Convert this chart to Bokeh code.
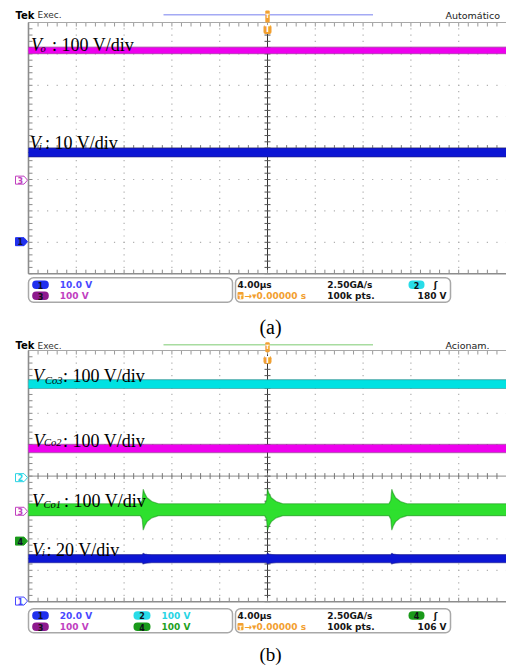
import numpy as np
from bokeh.plotting import figure
from bokeh.layouts import column
from bokeh.models import Range1d
from bokeh.core.properties import value
from bokeh.embed import file_html
from bokeh.resources import INLINE

# ---------------- values (units: divisions) ----------------
# panel (a)
a_trace_ch = ["3", "1"]
a_trace_sub = ["o", "i"]
a_trace_scale = [": 100 V/div", ": 10 V/div"]
a_trace_level = [3.11, -0.14]
a_trace_half = [0.105, 0.14]
a_marker_ch = ["3", "1"]
a_marker_level = [-1.02, -2.98]
a_selected = "1"
a_readout_ch = ["1", "3"]
a_readout_val = ["10.0 V", "100 V"]
a_mode = "Automático"
a_trig_ch = "2"
a_trig_level = "180 V"

# panel (b)
b_trace_ch = ["2", "3", "4", "1"]
b_trace_sub = ["Co3", "Co2", "Co1", "i"]
b_trace_scale = [": 100 V/div", ": 100 V/div", ": 100 V/div", ": 20 V/div"]
b_trace_level = [2.93, 0.88, -1.07, -2.63]
b_trace_half = [0.14, 0.13, 0.19, 0.13]
b_marker_ch = ["2", "3", "4", "1"]
b_marker_level = [-0.05, -1.12, -2.07, -3.98]
b_selected = "4"
b_readout_ch = ["1", "3", "2", "4"]
b_readout_val = ["20.0 V", "100 V", "100 V", "100 V"]
b_mode = "Acionam."
b_trig_ch = "4"
b_trig_level = "106 V"

# common acquisition readout
timebase = "4.00µs"
sample_rate = "2.50GA/s"
trig_pos = "→▾0.00000 s"
record = "100k pts."

# switching transients (time in divisions) and their envelope half-heights
spike_times = [-2.6, 0.0, 2.6]
spike_offsets = [-0.06, -0.02, 0.0, 0.03, 0.08, 0.18, 0.32]
co1_spike_amp = [0.19, 0.30, 0.65, 0.52, 0.38, 0.26, 0.19]
vi_spike_amp = [0.13, 0.13, 0.17, 0.15, 0.14, 0.13, 0.13]

# ---------------- styling ----------------
TRACE_FILL = {"1": "#0c16d4", "2": "#00e2e2", "3": "#ee00ee", "4": "#2ee02e"}
TRACE_EDGE = {"1": "#1c1c86", "2": "#2a8c8c", "3": "#8e2a8e", "4": "#1a901a"}
BADGE_FILL = {"1": "#2030ee", "2": "#28dce8", "3": "#8e1a8e", "4": "#1a9a1a"}
READ_COL = {"1": "#4848ff", "2": "#28d4e4", "3": "#c040c0", "4": "#229f22"}
ORANGE = "#f2a030"
SANS = "DejaVu Sans"
SERIF = "Liberation Serif"

W = 506
GX0 = 28.0
DX = 47.8
DY = 31.4


class Panel:
    def __init__(self, H, gy0):
        self.H = H
        self.gy0 = gy0
        self.p = figure(width=W, height=H,
                        x_range=Range1d(self.X(0), self.X(W)),
                        y_range=Range1d(self.Y(H), self.Y(0)),
                        x_axis_type=None, y_axis_type=None, toolbar_location=None,
                        output_backend="svg", min_border=0)
        self.p.outline_line_color = None
        self.p.background_fill_color = "white"
        self.p.border_fill_color = "white"

    def X(self, fx):
        return -5 + (fx - GX0) / DX

    def Y(self, fy):
        return 4 - (fy - self.gy0) / DY

    def txt(self, fx, fy, s, size, color="black", font=SANS, style="normal",
            align="left", baseline="middle"):
        self.p.text(x=[self.X(fx)], y=[self.Y(fy)], text=[s], text_font=value(font),
                    text_font_size=size, text_font_style=style, text_color=color,
                    text_align=align, text_baseline=baseline)

    def graticule(self):
        p = self.p
        minor_x = np.round(np.arange(-5, 5.001, 0.2), 3)
        minor_y = np.round(np.arange(-4, 4.001, 0.2), 3)
        dx, dy = [], []
        for gx in range(-4, 5):
            if gx == 0:
                continue
            dx += [gx] * len(minor_y)
            dy += list(minor_y)
        for gy in range(-3, 4):
            if gy == 0:
                continue
            dx += list(minor_x)
            dy += [gy] * len(minor_x)
        p.rect(dx, dy, width=1.2, height=1.2, width_units="screen",
               height_units="screen", fill_color="#b0b0b0", line_color=None)
        p.segment(x0=[-5], y0=[0], x1=[5], y1=[0], line_color="#8a8a8a", line_width=1)
        p.segment(x0=[0], y0=[-4], x1=[0], y1=[4], line_color="#333333", line_width=1)
        tx, ty = 3 / DX, 3 / DY
        p.segment(x0=[-tx] * len(minor_y), y0=list(minor_y), x1=[tx] * len(minor_y),
                  y1=list(minor_y), line_color="#555555", line_width=1)
        p.segment(x0=list(minor_x), y0=[-ty] * len(minor_x), x1=list(minor_x),
                  y1=[ty] * len(minor_x), line_color="#777777", line_width=1)
        ex, ey = 4 / DX, 4 / DY
        p.segment(x0=list(minor_x), y0=[4] * len(minor_x), x1=list(minor_x),
                  y1=[4 - ey] * len(minor_x), line_color="#9a9a9a", line_width=1)
        p.segment(x0=list(minor_x), y0=[-4] * len(minor_x), x1=list(minor_x),
                  y1=[-4 + ey] * len(minor_x), line_color="#8a8a8a", line_width=1)
        p.segment(x0=[-5] * len(minor_y), y0=list(minor_y), x1=[-5 + ex] * len(minor_y),
                  y1=list(minor_y), line_color="#8a8a8a", line_width=1)
        p.segment(x0=[-5], y0=[4], x1=[5], y1=[4], line_color="#a8a8a8", line_width=1)
        p.segment(x0=[-5, -5], y0=[-4, -4], x1=[-5, 5], y1=[4, -4],
                  line_color="#8c8c8c", line_width=1.6)

    def band(self, t, lvl, half, ch):
        p = self.p
        t = np.asarray(t, dtype=float)
        half = np.asarray(half, dtype=float)
        up = lvl + half
        dn = lvl - half
        p.varea(x=t, y1=dn, y2=up, fill_color=TRACE_FILL[ch])
        p.line(t, up, line_color=TRACE_EDGE[ch], line_alpha=0.55, line_width=1.2)
        p.line(t, dn, line_color=TRACE_EDGE[ch], line_alpha=0.55, line_width=1.2)
        p.line(t, np.full(len(t), lvl), line_color=TRACE_FILL[ch], line_width=1)

    def pointer(self, lvl, ch, selected):
        p = self.p
        fxs = [15, 23.5, 27, 23.5, 15]
        dys = [4, 4, 0, -4, -4]
        xs = [self.X(v) for v in fxs]
        ys = [lvl + d / DY for d in dys]
        if ch == selected:
            p.patch(xs, ys, fill_color=BADGE_FILL[ch], line_color=BADGE_FILL[ch], line_width=1)
            col = "#101030"
        else:
            p.patch(xs, ys, fill_color="white", line_color=READ_COL[ch], line_width=1)
            col = READ_COL[ch]
        p.text(x=[self.X(19.8)], y=[lvl], text=[ch], text_font=value(SANS),
               text_font_size="8px", text_font_style="bold", text_color=col,
               text_align="center", text_baseline="middle")

    def badge(self, fx0, fx1, fy, ch):
        self.p.quad(left=[self.X(fx0)], right=[self.X(fx1)], top=[self.Y(fy - 4.3)],
                    bottom=[self.Y(fy + 4.3)], border_radius=4,
                    fill_color=BADGE_FILL[ch], line_color=None)
        self.txt((fx0 + fx1) / 2, fy + 0.3, ch, "8px", color="#101018", style="bold",
                 align="center")

    def header(self, fy, line_fy, line_color, mode, trig_top, trig_box):
        p = self.p
        self.txt(15, fy, "Tek", "10px", style="bold")
        self.txt(37, fy + 0.3, "Exec.", "9px", color="#333333")
        p.segment(x0=[self.X(163)], y0=[self.Y(line_fy)], x1=[self.X(372.5)],
                  y1=[self.Y(line_fy)], line_color=line_color, line_width=1.6)
        self.txt(445, fy + 0.3, mode, "9.5px", color="#222222")
        a, b = trig_top
        p.quad(left=[self.X(264.8)], right=[self.X(269.2)], top=[self.Y(a)],
               bottom=[self.Y(b)], border_radius=1, fill_color=ORANGE, line_color=None)
        self.txt(267, (a + b) / 2 - 1, "T", "6px", color="white", style="bold", align="center")
        a, b = trig_box
        p.quad(left=[self.X(263)], right=[self.X(271)], top=[self.Y(a)], bottom=[self.Y(b)],
               border_radius=2, fill_color=ORANGE, line_color=None)
        self.txt(267, (a + b) / 2 + 0.3, "T", "8px", color="white", style="bold", align="center")

    def status(self, box, rows, readout_ch, readout_val, trig_ch, trig_level):
        p = self.p
        t, b = box
        r1, r2 = rows
        p.quad(left=[self.X(28), self.X(235)], right=[self.X(232), self.X(450)],
               top=[self.Y(t)] * 2, bottom=[self.Y(b)] * 2, border_radius=5,
               fill_color=None, line_color="#a8a8a8", line_width=1.5)
        cols = [(31.7, 48.3, 59.3), (133, 150, 161)]
        for i, (ch, val) in enumerate(zip(readout_ch, readout_val)):
            c = cols[i // 2]
            fy = r1 if i % 2 == 0 else r2
            self.badge(c[0], c[1], fy, ch)
            self.txt(c[2], fy + 0.3, val, "9px", color=READ_COL[ch], style="bold")
        self.txt(237, r1 + 0.3, timebase, "9px", style="bold", color="#151515")
        self.txt(326.7, r1 + 0.3, sample_rate, "9px", style="bold", color="#151515")
        self.badge(408, 424, r1, trig_ch)
        self.txt(435, r1 + 0.3, "ʃ", "9px", style="bold", align="center", color="#151515")
        p.quad(left=[self.X(237)], right=[self.X(243)], top=[self.Y(r2 - 3.6)],
               bottom=[self.Y(r2 + 3.6)], border_radius=1, fill_color=ORANGE, line_color=None)
        self.txt(240, r2 + 0.3, "T", "6px", style="bold", color="white", align="center")
        self.txt(244, r2 + 0.3, trig_pos, "9px", style="bold", color=ORANGE)
        self.txt(326.7, r2 + 0.3, record, "9px", style="bold", color="#151515")
        self.txt(446, r2 + 0.3, trig_level, "9px", style="bold", color="#151515", align="right")

    def trace_label(self, vpos, spos, rpos, sub, rest):
        self.txt(vpos[0], vpos[1], "V", "18px", font=SERIF, style="italic", baseline="alphabetic")
        self.txt(spos[0], spos[1], sub, "10.5px", font=SERIF, style="italic", baseline="alphabetic")
        self.txt(rpos[0], rpos[1], rest, "18px", font=SERIF, baseline="alphabetic")


def spiky(base, amps):
    t = [-5.0]
    h = [base]
    for ts in spike_times:
        t += [ts + o for o in spike_offsets]
        h += amps
    t.append(5.0)
    h.append(base)
    return t, h


# ---------------- panel (a) ----------------
A = Panel(340, 22)
A.graticule()
for ch, lvl, hw in zip(a_trace_ch, a_trace_level, a_trace_half):
    A.band([-5, 5], lvl, [hw, hw], ch)
a_label_v = [(30.5, 44.5), (29.3, 142.7)]
a_label_s = [(40.0, 47.5), (38.6, 145.8)]
a_label_r = [(51.5, 44.5), (44.5, 142.7)]
for i in range(2):
    A.trace_label(a_label_v[i], a_label_s[i], a_label_r[i], a_trace_sub[i], a_trace_scale[i])
for ch, lvl in zip(a_marker_ch, a_marker_level):
    A.pointer(lvl, ch, a_selected)
A.header(14.5, 14.2, "#a4aaf4", a_mode, (10, 22), (24.5, 33.5))
A.status((277.3, 301.7), (284.2, 295.2), a_readout_ch, a_readout_val, a_trig_ch, a_trig_level)
A.txt(270, 326.0, "(a)", "20px", font=SERIF, align="center")

# ---------------- panel (b) ----------------
B = Panel(326, 10)
B.graticule()
for ch, lvl, hw in zip(b_trace_ch, b_trace_level, b_trace_half):
    if ch == "4":
        t, h = spiky(hw, co1_spike_amp)
    elif ch == "1":
        t, h = spiky(hw, vi_spike_amp)
    else:
        t, h = [-5, 5], [hw, hw]
    B.band(t, lvl, h, ch)
b_label_v = [(32.5, 35.7), (33.0, 100.0), (31.5, 160.0), (31.5, 209.3)]
b_label_s = [(44.5, 40.0), (43.5, 102.2), (43.0, 163.8), (41.5, 212.0)]
b_label_r = [(62.5, 35.7), (62.5, 100.0), (63.5, 160.0), (46.0, 209.3)]
for i in range(4):
    B.trace_label(b_label_v[i], b_label_s[i], b_label_r[i], b_trace_sub[i], b_trace_scale[i])
for ch, lvl in zip(b_marker_ch, b_marker_level):
    B.pointer(lvl, ch, b_selected)
B.header(5.0, 4.3, "#a8dca0", b_mode, (1.7, 11.7), (15.7, 23.3))
B.status((268.3, 292.3), (275.0, 286.2), b_readout_ch, b_readout_val, b_trig_ch, b_trig_level)
B.txt(270, 314.0, "(b)", "19px", font=SERIF, align="center")

layout = column(A.p, B.p, spacing=0)
open("out.html", "w").write(file_html(layout, INLINE))
